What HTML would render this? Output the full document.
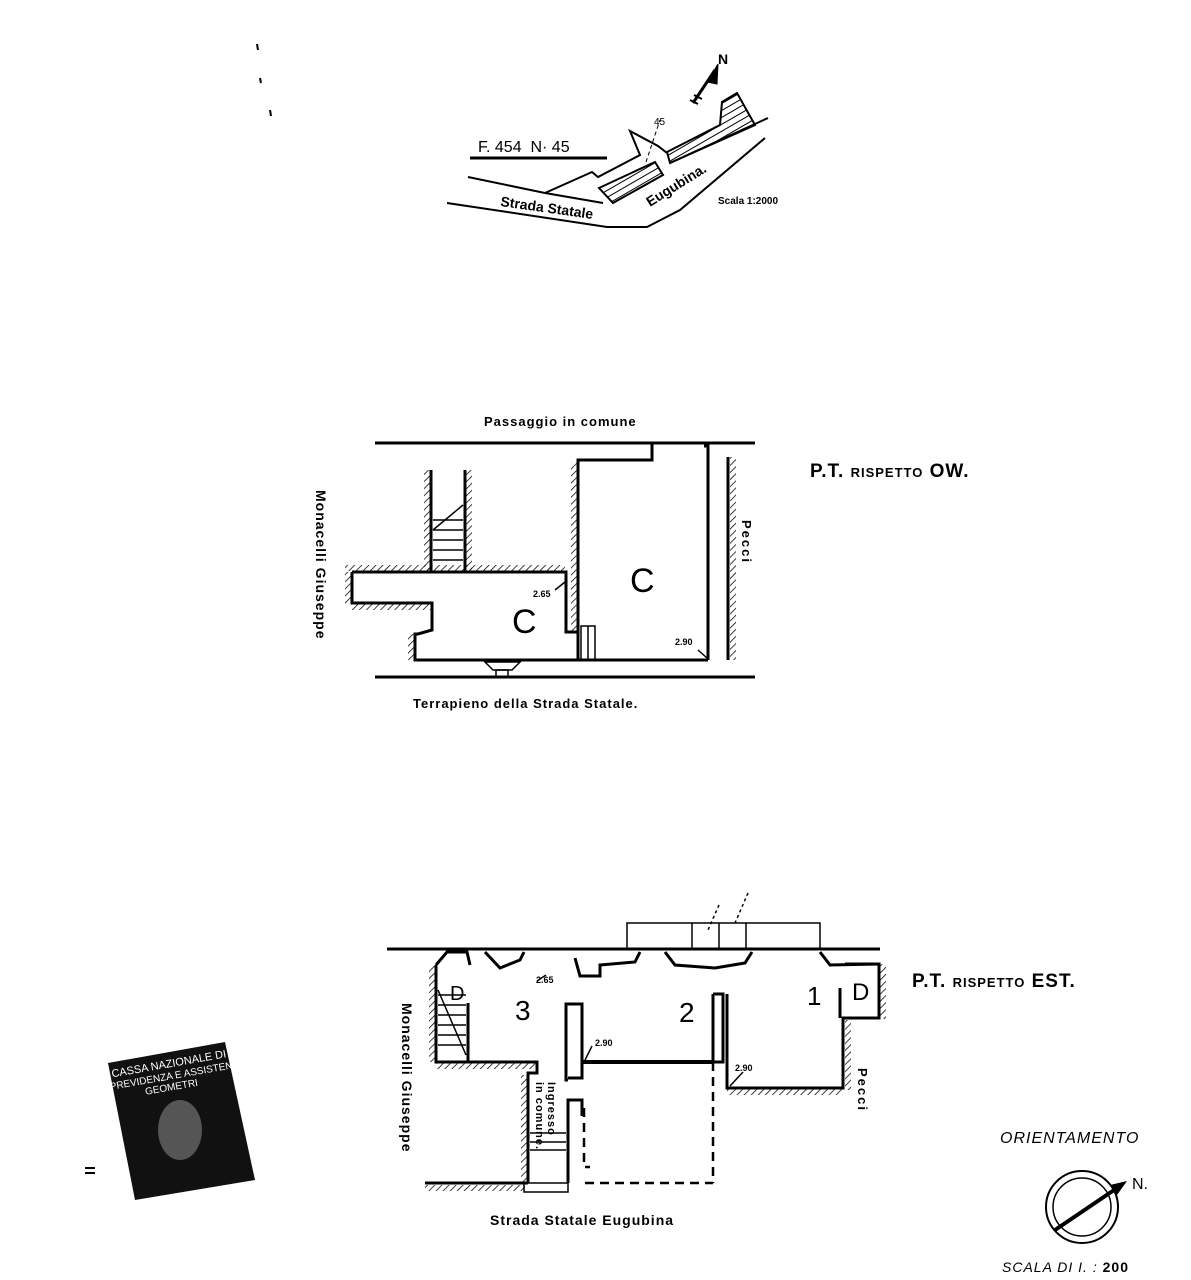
<!DOCTYPE html>
<html><head><meta charset="utf-8"><style>
html,body{margin:0;padding:0;background:#fff}
svg{display:block}
text{font-family:"Liberation Sans",sans-serif;fill:#000}
</style></head><body>
<svg width="1191" height="1280" viewBox="0 0 1191 1280" xmlns="http://www.w3.org/2000/svg">
<defs>
<pattern id="h" width="6" height="6" patternUnits="userSpaceOnUse" patternTransform="rotate(-30)">
<line x1="0" y1="0" x2="6" y2="0" stroke="#000" stroke-width="2"/>
</pattern>
<pattern id="hh" width="5" height="5" patternUnits="userSpaceOnUse" patternTransform="rotate(45)">
<line x1="0" y1="0" x2="0" y2="5" stroke="#000" stroke-width="1.5"/>
</pattern>
</defs>
<g fill="none" stroke="#000">
<line x1="257" y1="44" x2="258" y2="50" stroke-width="2"/>
<line x1="260" y1="78" x2="261" y2="83" stroke-width="2"/>
<line x1="270" y1="110" x2="271" y2="116" stroke-width="2"/>

<!-- TOP MAP -->
<line x1="470" y1="158" x2="607" y2="158" stroke-width="3"/>
<polyline points="447,203 607,227 647,227 680,210 765,138" stroke-width="2"/>
<polyline points="468,177 545,193 603,203" stroke-width="2"/>
<polyline points="670,163 768,118" stroke-width="2"/>
<polyline points="545,193 592,172 598,177 640,155 630,131 658,146 667,153" stroke-width="2"/>
<polygon points="599,188 655,162 663,175 613,203" fill="url(#h)" stroke-width="2"/>
<polygon points="667,152 720,125 722,102 737,93 755,125 670,163" fill="url(#h)" stroke-width="2"/>
<line x1="646" y1="162" x2="660" y2="120" stroke-width="1" stroke-dasharray="4,3"/>
<line x1="693" y1="103" x2="715" y2="70" stroke-width="3"/>
<polygon points="718,64 707,82 717,84" fill="#000"/>
<line x1="690" y1="100" x2="698" y2="104" stroke-width="2"/>
<line x1="694" y1="95" x2="702" y2="99" stroke-width="2"/>
</g>
<text x="478" y="152" font-size="16">F. 454 &#160;N· 45</text>
<text x="654" y="125" font-size="10">45</text>
<text x="718" y="64" font-size="14" font-weight="bold">N</text>
<text x="500" y="206" font-size="14" font-weight="bold" transform="rotate(8 500 206)">Strada Statale</text>
<text x="650" y="207" font-size="14" font-weight="bold" transform="rotate(-32 650 207)">Eugubina.</text>
<text x="718" y="204" font-size="10" font-weight="bold">Scala 1:2000</text>

<!-- PLAN 1 -->
<text x="484" y="426" font-size="13" font-weight="bold" letter-spacing="1">Passaggio in comune</text>
<text x="810" y="477" font-size="19" font-weight="bold" letter-spacing="1">P.T. <tspan font-size="13">RISPETTO</tspan> OW.</text>
<text x="413" y="708" font-size="13" font-weight="bold" letter-spacing="1">Terrapieno della Strada Statale.</text>
<text x="0" y="0" font-size="14" font-weight="bold" transform="translate(316,490) rotate(90)" letter-spacing="1">Monacelli Giuseppe</text>
<text x="0" y="0" font-size="13" font-weight="bold" transform="translate(742,520) rotate(90)" letter-spacing="2">Pecci</text>
<g fill="none" stroke="#000" stroke-width="3">
<line x1="375" y1="443" x2="755" y2="443"/>
<line x1="375" y1="677" x2="755" y2="677"/>
<polyline points="652,443 652,460 578,460 578,660"/>
<polyline points="704,446 708,446 708,660"/>
<polyline points="352,572 566,572 566,632 578,632"/>
<polyline points="352,572 352,603 432,603 432,630 418,634 415,634 415,660 708,660"/>
<line x1="431" y1="470" x2="431" y2="572"/>
<line x1="465" y1="470" x2="465" y2="572"/>
<line x1="728" y1="457" x2="728" y2="660"/>
</g>
<g stroke="#000" stroke-width="1.5">
<rect x="424" y="470" width="6" height="102" fill="url(#hh)" stroke="none"/>
<rect x="466" y="470" width="6" height="100" fill="url(#hh)" stroke="none"/>
<rect x="571" y="462" width="6" height="170" fill="url(#hh)" stroke="none"/>
<rect x="730" y="457" width="6" height="203" fill="url(#hh)" stroke="none"/>
<rect x="345" y="565" width="220" height="6" fill="url(#hh)" stroke="none"/>
<rect x="345" y="572" width="6" height="32" fill="url(#hh)" stroke="none"/>
<rect x="352" y="604" width="80" height="6" fill="url(#hh)" stroke="none"/>
<rect x="408" y="634" width="6" height="26" fill="url(#hh)" stroke="none"/>
<line x1="433" y1="520" x2="463" y2="520"/><line x1="433" y1="530" x2="463" y2="530"/>
<line x1="433" y1="540" x2="463" y2="540"/><line x1="433" y1="550" x2="463" y2="550"/>
<line x1="433" y1="560" x2="463" y2="560"/><line x1="433" y1="530" x2="463" y2="505"/>
<rect x="581" y="626" width="14" height="34" fill="none"/>
<line x1="588" y1="626" x2="588" y2="660"/>
<polygon points="485,662 520,662 512,670 493,670" fill="none"/>
<rect x="496" y="670" width="12" height="7" fill="none"/>
<line x1="555" y1="590" x2="565" y2="582"/><line x1="698" y1="650" x2="707" y2="658"/>
</g>
<text x="630" y="592" font-size="34" font-family="Liberation Serif">C</text>
<text x="512" y="633" font-size="34" font-family="Liberation Serif">C</text>
<text x="533" y="597" font-size="9" font-weight="bold">2.65</text>
<text x="675" y="645" font-size="9" font-weight="bold">2.90</text>

<!-- PLAN 2 -->
<text x="912" y="987" font-size="19" font-weight="bold" letter-spacing="1">P.T. <tspan font-size="13">RISPETTO</tspan> EST.</text>
<text x="490" y="1225" font-size="14" font-weight="bold" letter-spacing="1">Strada Statale Eugubina</text>
<text x="0" y="0" font-size="14" font-weight="bold" transform="translate(402,1003) rotate(90)" letter-spacing="1">Monacelli Giuseppe</text>
<text x="0" y="0" font-size="13" font-weight="bold" transform="translate(858,1068) rotate(90)" letter-spacing="2">Pecci</text>
<text x="0" y="0" font-size="11" font-weight="bold" transform="translate(548,1082) rotate(90)" letter-spacing="1">Ingresso</text>
<text x="0" y="0" font-size="11" font-weight="bold" transform="translate(536,1082) rotate(90)" letter-spacing="1">in comune.</text>
<g fill="none" stroke="#000" stroke-width="3">
<line x1="387" y1="949" x2="880" y2="949"/>
<polyline points="436,965 436,1062 537,1062 537,1073 528,1073 528,1183"/>
<line x1="425" y1="1183" x2="528" y2="1183"/>
<polyline points="568,1183 568,1100 582,1100 582,1116"/>
<polyline points="568,1080 566,1080 566,1004 582,1004 582,1078 568,1078"/>
<line x1="582" y1="1062" x2="713" y2="1062" stroke-width="4"/>
<polyline points="713,994 723,994 723,1062 713,1062 713,994"/>
<polyline points="727,994 727,1088 843,1088 843,1018 879,1018 879,964 845,964"/>
<line x1="840" y1="988" x2="840" y2="1018"/>
<line x1="468" y1="1003" x2="468" y2="1062"/>
<polyline points="436,965 447,952 467,952 470,965"/>
<polyline points="485,952 500,968 520,960 524,952"/>
<polyline points="575,958 580,976 600,976 600,965 635,962 640,952"/>
<polyline points="665,952 675,965 715,968 745,963 752,952"/>
<polyline points="820,952 830,965 880,964"/>
</g>
<g fill="none" stroke="#000" stroke-width="2.5" stroke-dasharray="9,6">
<line x1="713" y1="1062" x2="713" y2="1183"/>
<line x1="585" y1="1183" x2="713" y2="1183"/>
<polyline points="584,1108 584,1167 590,1167"/>
</g>
<g stroke="#000" stroke-width="1.5">
<rect x="429" y="966" width="6" height="96" fill="url(#hh)" stroke="none"/>
<rect x="436" y="1063" width="100" height="6" fill="url(#hh)" stroke="none"/>
<rect x="521" y="1075" width="6" height="108" fill="url(#hh)" stroke="none"/>
<rect x="425" y="1185" width="100" height="6" fill="url(#hh)" stroke="none"/>
<rect x="727" y="1089" width="116" height="6" fill="url(#hh)" stroke="none"/>
<rect x="845" y="1020" width="6" height="70" fill="url(#hh)" stroke="none"/>
<rect x="880" y="964" width="6" height="55" fill="url(#hh)" stroke="none"/>
<line x1="438" y1="995" x2="466" y2="995"/><line x1="438" y1="1005" x2="466" y2="1005"/>
<line x1="438" y1="1015" x2="466" y2="1015"/><line x1="438" y1="1025" x2="466" y2="1025"/>
<line x1="438" y1="1035" x2="466" y2="1035"/><line x1="438" y1="1045" x2="466" y2="1045"/>
<line x1="438" y1="990" x2="466" y2="1055"/>
<line x1="530" y1="1133" x2="566" y2="1133"/><line x1="530" y1="1142" x2="566" y2="1142"/><line x1="530" y1="1150" x2="566" y2="1150"/>
<rect x="524" y="1183" width="44" height="9" fill="none"/>
<rect x="627" y="923" width="193" height="26" fill="none"/>
<line x1="692" y1="923" x2="692" y2="949"/><line x1="719" y1="923" x2="719" y2="949"/><line x1="746" y1="923" x2="746" y2="949"/>
<line x1="719" y1="905" x2="708" y2="930" stroke-dasharray="3,3"/>
<line x1="748" y1="893" x2="735" y2="923" stroke-dasharray="3,3"/>
<line x1="546" y1="975" x2="537" y2="981"/>
<line x1="592" y1="1046" x2="585" y2="1060"/>
<line x1="743" y1="1072" x2="730" y2="1086"/>
</g>
<text x="515" y="1020" font-size="28" font-family="Liberation Serif">3</text>
<text x="679" y="1022" font-size="28" font-family="Liberation Serif">2</text>
<text x="807" y="1005" font-size="26" font-family="Liberation Serif">1</text>
<text x="852" y="1000" font-size="24" font-family="Liberation Serif">D</text>
<text x="450" y="1000" font-size="20" font-family="Liberation Serif">D</text>
<text x="536" y="983" font-size="9" font-weight="bold">2.65</text>
<text x="595" y="1046" font-size="9" font-weight="bold">2.90</text>
<text x="735" y="1071" font-size="9" font-weight="bold">2.90</text>

<!-- ORIENTAMENTO -->
<text x="1000" y="1143" font-size="16" font-style="italic" font-family="Liberation Serif" letter-spacing="1">ORIENTAMENTO</text>
<circle cx="1082" cy="1207" r="36" fill="none" stroke="#000" stroke-width="2"/>
<circle cx="1082" cy="1207" r="29" fill="none" stroke="#000" stroke-width="1.5"/>
<line x1="1055" y1="1230" x2="1120" y2="1186" stroke="#000" stroke-width="4"/>
<polygon points="1127,1181 1110,1185 1117,1195" fill="#000"/>
<text x="1132" y="1189" font-size="16" font-family="Liberation Serif">N.</text>
<text x="1002" y="1272" font-size="14" font-style="italic" font-family="Liberation Serif" letter-spacing="1">SCALA DI I. : <tspan font-weight="bold" font-style="normal">200</tspan></text>

<!-- stamp -->
<polygon points="108,1063 225,1042 255,1180 135,1200" fill="#111"/>
<g transform="rotate(-10 165 1060)">
<text x="110" y="1068" font-size="11" style="fill:#fff">CASSA NAZIONALE DI</text>
<text x="106" y="1080" font-size="10" style="fill:#fff">PREVIDENZA E ASSISTENZA</text>
<text x="140" y="1091" font-size="10" style="fill:#fff">GEOMETRI</text>
</g>
<ellipse cx="180" cy="1130" rx="22" ry="30" fill="#555"/>
<line x1="85" y1="1168" x2="95" y2="1168" stroke="#000" stroke-width="2"/>
<line x1="85" y1="1173" x2="95" y2="1173" stroke="#000" stroke-width="2"/>
</svg>
</body></html>
